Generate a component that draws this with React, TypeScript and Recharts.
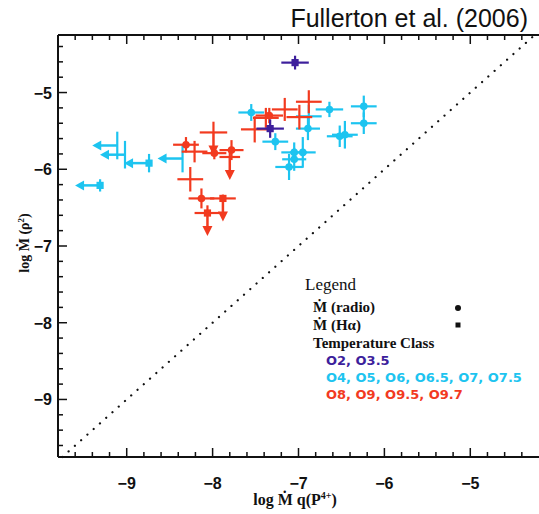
import { ErrorBar, ReferenceLine, Scatter, ScatterChart, XAxis, YAxis } from "recharts";

type Pt = {
  x: number;
  y: number;
  ex: number;
  ey: number | number[];
  mk: "dot" | "sq" | "none";
  lim?: "left" | "down";
};

// O2, O3.5
const EARLY_O: Pt[] = [
  { x: -7.04, y: -4.61, ex: 0.16, ey: 0.09, mk: "sq" },
  { x: -7.33, y: -5.47, ex: 0.16, ey: 0.12, mk: "sq" },
];

// O4 .. O7.5
const MID_O: Pt[] = [
  { x: -9.11, y: -5.69, ex: 0, ey: 0.18, mk: "none", lim: "left" },
  { x: -9.02, y: -5.81, ex: 0, ey: 0.18, mk: "none", lim: "left" },
  { x: -8.74, y: -5.92, ex: 0, ey: 0.12, mk: "sq", lim: "left" },
  { x: -8.35, y: -5.86, ex: 0, ey: 0.18, mk: "none", lim: "left" },
  { x: -9.31, y: -6.21, ex: 0, ey: 0.08, mk: "sq", lim: "left" },
  { x: -7.55, y: -5.26, ex: 0.15, ey: 0.11, mk: "dot" },
  { x: -7.27, y: -5.64, ex: 0.15, ey: 0.11, mk: "dot" },
  { x: -6.89, y: -5.47, ex: 0.14, ey: 0.15, mk: "dot" },
  { x: -6.88, y: -5.31, ex: 0.15, ey: 0.15, mk: "none" },
  { x: -6.64, y: -5.22, ex: 0.16, ey: 0.1, mk: "dot" },
  { x: -6.24, y: -5.18, ex: 0.15, ey: 0.14, mk: "dot" },
  { x: -6.24, y: -5.4, ex: 0.15, ey: 0.14, mk: "dot" },
  { x: -6.46, y: -5.55, ex: 0.15, ey: 0.18, mk: "dot" },
  { x: -6.52, y: -5.57, ex: 0.15, ey: 0.14, mk: "dot" },
  { x: -7.05, y: -5.78, ex: 0.15, ey: 0.13, mk: "dot" },
  { x: -6.95, y: -5.78, ex: 0.15, ey: 0.2, mk: "dot" },
  { x: -7.05, y: -5.87, ex: 0.14, ey: 0.15, mk: "dot" },
  { x: -7.11, y: -5.97, ex: 0.16, ey: 0.17, mk: "dot" },
];

// O8 .. O9.7
const LATE_O: Pt[] = [
  { x: -6.88, y: -5.12, ex: 0.15, ey: 0.15, mk: "none" },
  { x: -7.34, y: -5.3, ex: 0.16, ey: 0.1, mk: "dot" },
  { x: -7.38, y: -5.33, ex: 0.15, ey: 0.13, mk: "none" },
  { x: -7.16, y: -5.22, ex: 0.15, ey: 0.15, mk: "none" },
  { x: -6.99, y: -5.32, ex: 0.15, ey: 0.16, mk: "none" },
  { x: -7.51, y: -5.48, ex: 0.16, ey: 0.17, mk: "none" },
  { x: -7.99, y: -5.52, ex: 0.16, ey: [0, 0.14], mk: "none", lim: "down" },
  { x: -8.31, y: -5.68, ex: 0.15, ey: 0.1, mk: "dot" },
  { x: -8.21, y: -5.77, ex: 0.15, ey: 0.14, mk: "none" },
  { x: -7.98, y: -5.79, ex: 0.14, ey: 0.08, mk: "dot" },
  { x: -7.78, y: -5.75, ex: 0.14, ey: 0.13, mk: "dot" },
  { x: -7.8, y: -5.84, ex: 0.12, ey: [0, 0.09], mk: "none", lim: "down" },
  { x: -8.26, y: -6.13, ex: 0.15, ey: 0.16, mk: "none" },
  { x: -8.13, y: -6.38, ex: 0.15, ey: 0.13, mk: "dot" },
  { x: -7.88, y: -6.38, ex: 0.15, ey: [0, 0.05], mk: "sq", lim: "down" },
  { x: -8.06, y: -6.57, ex: 0.15, ey: [0, 0.1], mk: "sq", lim: "down" },
];

const X_DOMAIN = [-9.8, -4.2];
const Y_DOMAIN = [-9.75, -4.25];
const MAJOR = [-9, -8, -7, -6, -5];
const X_TICKS = [
  -9.6, -9.4, -9.2, -9, -8.8, -8.6, -8.4, -8.2, -8, -7.8, -7.6, -7.4, -7.2, -7,
  -6.8, -6.6, -6.4, -6.2, -6, -5.8, -5.6, -5.4, -5.2, -5, -4.8, -4.6, -4.4,
];
const Y_TICKS = [
  -9.6, -9.4, -9.2, -9, -8.8, -8.6, -8.4, -8.2, -8, -7.8, -7.6, -7.4, -7.2, -7,
  -6.8, -6.6, -6.4, -6.2, -6, -5.8, -5.6, -5.4, -5.2, -5, -4.8, -4.6, -4.4,
];
const ONE_TO_ONE = [-9.75, -4.25];

const CLASS_LABELS = ["O2, O3.5", "O4, O5, O6, O6.5, O7, O7.5", "O8, O9, O9.5, O9.7"];

const PURPLE = "#3d1f9c";
const CYAN = "#1dc4f0";
const RED = "#f23a1f";
const INK = "#111";

// chart box
const W = 539;
const H = 514;
const M = { top: 35, right: 0, bottom: 0, left: 0 };
const Y_AXIS_W = 58;
const X_AXIS_H = 57;
const plotW = W - M.left - M.right - Y_AXIS_W;
const plotH = H - M.top - M.bottom - X_AXIS_H;
// tick length in data units (ticks point inward)
const xLen = (px: number) => (px * (X_DOMAIN[1] - X_DOMAIN[0])) / plotW;
const yLen = (px: number) => (px * (Y_DOMAIN[1] - Y_DOMAIN[0])) / plotH;

const isMajor = (v: number) => MAJOR.some((m) => Math.abs(m - v) < 1e-6);
const fmt = (v: number) => "\u2212" + Math.abs(v);

const tickFont = {
  fontFamily: "'Liberation Sans', Arial, sans-serif",
  fontWeight: 700,
  fontSize: 16,
  fill: INK,
};

function BottomLabel({ x, y, payload }: any) {
  if (!isMajor(payload.value)) return <g />;
  return (
    <text x={x} y={y + 32} textAnchor="middle" {...tickFont}>
      {fmt(payload.value)}
    </text>
  );
}

function LeftLabel({ x, y, payload }: any) {
  if (!isMajor(payload.value)) return <g />;
  return (
    <text x={x - 6} y={y + 6} textAnchor="end" {...tickFont}>
      {fmt(payload.value)}
    </text>
  );
}

function Mark({ cx, cy, payload, color }: any) {
  const p = payload as Pt;
  return (
    <g>
      {p.lim === "left" && (
        <>
          <line x1={cx} y1={cy} x2={cx - 17} y2={cy} stroke={color} strokeWidth={2.5} />
          <polygon points={`${cx - 25},${cy} ${cx - 16},${cy - 5} ${cx - 16},${cy + 5}`} fill={color} />
        </>
      )}
      {p.lim === "down" && (
        <>
          <line x1={cx} y1={cy} x2={cx} y2={cy + 14} stroke={color} strokeWidth={2.5} />
          <polygon points={`${cx},${cy + 23} ${cx - 5},${cy + 13} ${cx + 5},${cy + 13}`} fill={color} />
        </>
      )}
      {p.mk === "dot" && <circle cx={cx} cy={cy} r={3.8} fill={color} />}
      {p.mk === "sq" && <rect x={cx - 3.6} y={cy - 3.6} width={7.2} height={7.2} fill={color} />}
    </g>
  );
}

const axisLine = { stroke: INK, strokeWidth: 2 };

export default function App() {
  const groups = [
    { data: MID_O, color: CYAN },
    { data: LATE_O, color: RED },
    { data: EARLY_O, color: PURPLE },
  ];
  const serif = "'Liberation Serif', 'Times New Roman', serif";
  const sans = "'DejaVu Sans', sans-serif";
  const [x0, x1] = X_DOMAIN;
  const [y0, y1] = Y_DOMAIN;

  return (
    <div style={{ position: "absolute", left: 0, top: 0, width: W, height: H, background: "#fff" }}>
      <ScatterChart width={W} height={H} margin={M}>
        <XAxis
          dataKey="x"
          type="number"
          domain={X_DOMAIN}
          ticks={X_TICKS}
          interval={0}
          height={X_AXIS_H}
          tickSize={0}
          tickMargin={0}
          tick={BottomLabel}
          tickLine={false}
          axisLine={axisLine}
          allowDataOverflow
        />
        <YAxis
          dataKey="y"
          type="number"
          domain={Y_DOMAIN}
          ticks={Y_TICKS}
          interval={0}
          width={Y_AXIS_W}
          tickSize={0}
          tickMargin={0}
          tick={LeftLabel}
          tickLine={false}
          axisLine={axisLine}
          allowDataOverflow
        />

        {/* top frame */}
        <ReferenceLine y={y1} stroke={INK} strokeWidth={2} ifOverflow="visible" />

        {/* inward tick marks: bottom, top, left */}
        {X_TICKS.map((t) => {
          const l = yLen(isMajor(t) ? 9 : 5);
          return (
            <ReferenceLine
              key={"b" + t}
              segment={[{ x: t, y: y0 }, { x: t, y: y0 + l }]}
              stroke={INK}
              strokeWidth={1.5}
              ifOverflow="visible"
            />
          );
        })}
        {X_TICKS.map((t) => {
          const l = yLen(isMajor(t) ? 9 : 5);
          return (
            <ReferenceLine
              key={"t" + t}
              segment={[{ x: t, y: y1 }, { x: t, y: y1 - l }]}
              stroke={INK}
              strokeWidth={1.5}
              ifOverflow="visible"
            />
          );
        })}
        {Y_TICKS.map((t) => {
          const l = xLen(isMajor(t) ? 9 : 5);
          return (
            <ReferenceLine
              key={"l" + t}
              segment={[{ x: x0, y: t }, { x: x0 + l, y: t }]}
              stroke={INK}
              strokeWidth={1.5}
              ifOverflow="visible"
            />
          );
        })}

        <ReferenceLine
          segment={[
            { x: ONE_TO_ONE[0], y: ONE_TO_ONE[0] },
            { x: ONE_TO_ONE[1], y: ONE_TO_ONE[1] },
          ]}
          stroke={INK}
          strokeWidth={2.2}
          strokeDasharray="0.1 8.3"
          strokeLinecap="round"
        />

        {groups.map((g, i) => (
          <Scatter
            key={i}
            data={g.data}
            fill={g.color}
            isAnimationActive={false}
            shape={(props: any) => <Mark {...props} color={g.color} />}
          >
            <ErrorBar dataKey="ex" direction="x" width={0} stroke={g.color} strokeWidth={2.2} isAnimationActive={false} />
            <ErrorBar dataKey="ey" direction="y" width={0} stroke={g.color} strokeWidth={2.2} isAnimationActive={false} />
          </Scatter>
        ))}
      </ScatterChart>

      <svg width={W} height={H} style={{ position: "absolute", left: 0, top: 0, pointerEvents: "none" }}>
        <text x={528} y={27} textAnchor="end" fontFamily="'Liberation Sans', Arial, sans-serif" fontSize={25} fill={INK}>
          Fullerton et al. (2006)
        </text>

        <text x={295} y={505} textAnchor="middle" fontFamily={serif} fontWeight={700} fontSize={16} fill={INK}>
          log Ṁ q(P
          <tspan dy={-6} fontSize={10}>4+</tspan>
          <tspan dy={6}>)</tspan>
        </text>
        <text
          transform="translate(29,243) rotate(-90)"
          textAnchor="middle"
          fontFamily={serif}
          fontWeight={700}
          fontSize={14}
          fill={INK}
        >
          log Ṁ (ρ<tspan dy={-5} fontSize={9}>2</tspan>
          <tspan dy={5}>)</tspan>
        </text>

        <text x={305} y={290} fontFamily={serif} fontSize={17} fill={INK}>
          Legend
        </text>
        <text x={313} y={312} fontFamily={serif} fontWeight={700} fontSize={15} fill={INK}>
          Ṁ (radio)
        </text>
        <circle cx={458} cy={308} r={3} fill={INK} />
        <text x={313} y={330} fontFamily={serif} fontWeight={700} fontSize={15} fill={INK}>
          Ṁ (Hα)
        </text>
        <rect x={455.5} y={322.5} width={5} height={5} fill={INK} />
        <text x={313} y={348} fontFamily={serif} fontWeight={700} fontSize={15} fill={INK}>
          Temperature Class
        </text>
        <text x={326} y={365} fontFamily={sans} fontWeight={700} fontSize={13} fill={PURPLE}>
          {CLASS_LABELS[0]}
        </text>
        <text x={326} y={382} fontFamily={sans} fontWeight={700} fontSize={13} fill={CYAN}>
          {CLASS_LABELS[1]}
        </text>
        <text x={326} y={399} fontFamily={sans} fontWeight={700} fontSize={13} fill={RED}>
          {CLASS_LABELS[2]}
        </text>
      </svg>
    </div>
  );
}
